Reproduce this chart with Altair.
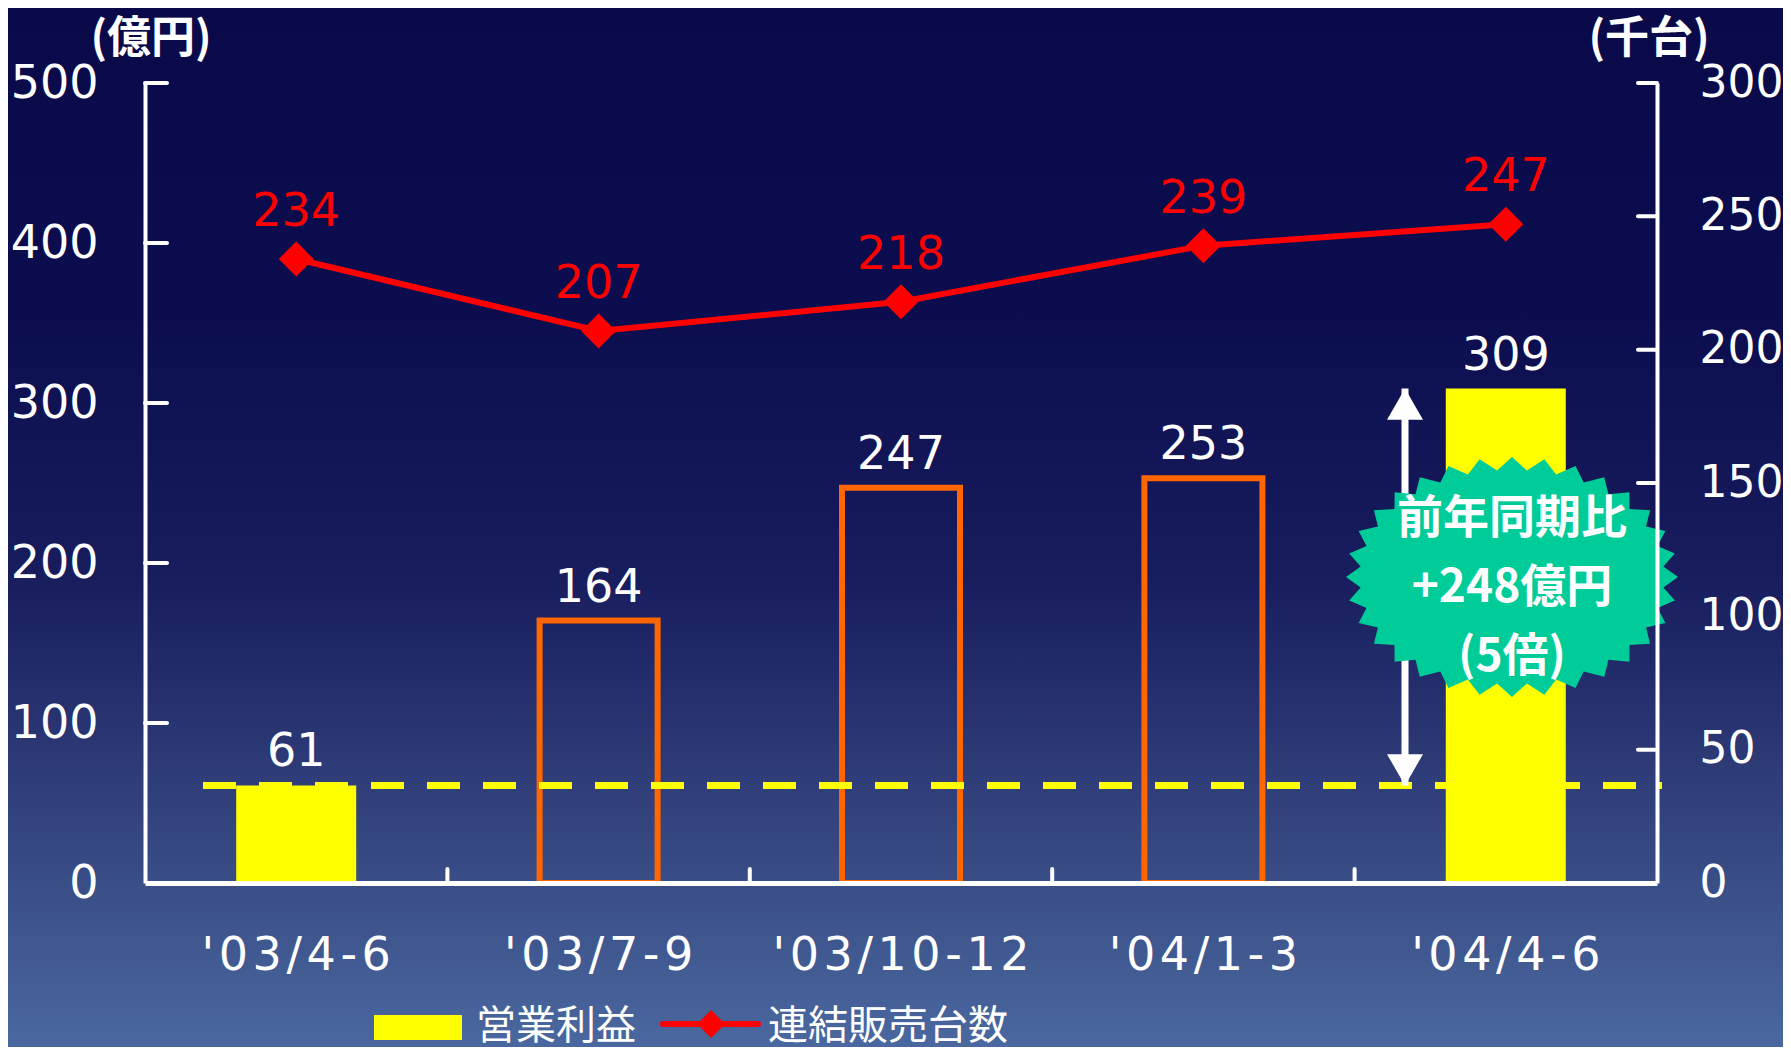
import math
import altair as alt
import pandas as pd

# ---------------- data ----------------
categories = ["'03/4-6", "'03/7-9", "'03/10-12", "'04/1-3", "'04/4-6"]
profit = [61, 164, 247, 253, 309]          # 営業利益 (億円), left axis
units = [234, 207, 218, 239, 247]          # 連結販売台数 (千台), right axis
bar_style = ["filled", "outline", "outline", "outline", "filled"]
left_values = [0, 100, 200, 300, 400, 500]
right_values = [0, 50, 100, 150, 200, 250, 300]
badge_lines = ["前年同期比", "+248億円", "(5倍)"]
legend_labels = ["営業利益", "連結販売台数"]
left_unit = "(億円)"
right_unit = "(千台)"

df = pd.DataFrame({"cat": categories, "profit": profit, "units": units, "style": bar_style})
one = pd.DataFrame({"k": [0]})

# ---------------- layout ----------------
W, H = 1512, 800
PAD = {"left": 137, "top": 75, "right": 126, "bottom": 164}

WHITE = "#ffffff"
YELLOW = "#ffff00"
ORANGE = "#ff6600"
RED = "#ff0000"
GREEN = "#00cc99"
NUMFONT = "DejaVu Sans"
JPFONT = "Noto Sans CJK JP"

xscale = alt.Scale(domain=categories, paddingInner=0, paddingOuter=0)
xaxis = alt.Axis(title=None, labelAngle=0, labelColor=WHITE, labelFont=NUMFONT,
                 labelFontSize=46, labelPadding=50, labelLimit=600, ticks=False, tickSize=0,
                 labelExpr="join(split(datum.label, ''), '\u200a')",
                 domainColor=WHITE, domainWidth=5, grid=False, zindex=1)
X = alt.X("cat:N", sort=categories, scale=xscale, axis=xaxis)

lscale = alt.Scale(domain=[0, 500], nice=False, zero=True)
rscale = alt.Scale(domain=[0, 300], nice=False, zero=True)

laxis = alt.Axis(orient="left", title=None, values=left_values, labelColor=WHITE,
                 labelFont=NUMFONT, labelFontSize=46, labelPadding=47, ticks=False,
                 tickSize=0, domainColor=WHITE, domainWidth=4, grid=False, zindex=1)
raxis = alt.Axis(orient="right", title=None, values=right_values, labelColor=WHITE,
                 labelFont=NUMFONT, labelFontSize=44, labelPadding=42, ticks=False,
                 tickSize=0, domainColor=WHITE, domainWidth=4, grid=False, zindex=1)

# ---------------- background gradient ----------------
grad = alt.LinearGradient(
    gradient="linear", x1=0, x2=0, y1=0, y2=1,
    stops=[
        alt.GradientStop(color="#0a0a4a", offset=0),
        alt.GradientStop(color="#0b0d4e", offset=0.3),
        alt.GradientStop(color="#181d5e", offset=0.55),
        alt.GradientStop(color="#33437d", offset=0.78),
        alt.GradientStop(color="#4a689f", offset=1),
    ],
)
bg = alt.Chart(one).mark_rect(color=grad).encode(
    x=alt.value(-PAD["left"]), x2=alt.value(W + PAD["right"]),
    y=alt.value(-PAD["top"]), y2=alt.value(H + PAD["bottom"]),
)

base = alt.Chart(df)

filled = base.transform_filter(alt.datum.style == "filled").mark_bar(
    width=120, color=YELLOW
).encode(x=X, y=alt.Y("profit:Q", scale=lscale, axis=laxis))

outline = base.transform_filter(alt.datum.style == "outline").mark_bar(
    width=118, fill="#000000", fillOpacity=0, stroke=ORANGE, strokeWidth=6
).encode(x=X, y=alt.Y("profit:Q", scale=lscale, axis=None))

bar_text = base.mark_text(font=NUMFONT, fontSize=46, color=WHITE, baseline="alphabetic",
                          dy=-19).encode(
    x=X, y=alt.Y("profit:Q", scale=lscale, axis=None), text="profit:Q")

# inward ticks
lt = alt.Chart(pd.DataFrame({"v": left_values[1:]})).mark_rule(
    color=WHITE, strokeWidth=4, strokeCap="round").encode(
    y=alt.Y("v:Q", scale=lscale, axis=None), x=alt.value(0), x2=alt.value(22))
rt = alt.Chart(pd.DataFrame({"v": right_values[1:]})).mark_rule(
    color=WHITE, strokeWidth=4, strokeCap="round").encode(
    y=alt.Y("v:Q", scale=rscale, axis=None), x=alt.value(W - 19), x2=alt.value(W))
xt = alt.Chart(pd.DataFrame({"cat": categories[1:]})).mark_rule(
    color=WHITE, strokeWidth=4, strokeCap="round").encode(
    x=alt.X("cat:N", sort=categories, scale=xscale, axis=xaxis, bandPosition=0),
    y=alt.value(H), y2=alt.value(H - 14))

# dashed reference at first-quarter profit
dash = alt.Chart(pd.DataFrame({"v": [profit[0]]})).mark_rule(
    color=YELLOW, strokeWidth=7, strokeDash=[33, 23]).encode(
    y=alt.Y("v:Q", scale=lscale, axis=None), x=alt.value(58), x2=alt.value(1517))

# line series
line = base.mark_line(color=RED, strokeWidth=6).encode(
    x=X, y=alt.Y("units:Q", scale=rscale, axis=raxis))
pts = base.mark_point(shape="diamond", filled=True, size=1225, color=RED, opacity=1,
                      strokeWidth=0).encode(
    x=X, y=alt.Y("units:Q", scale=rscale, axis=None))
line_text = base.mark_text(font=NUMFONT, fontSize=46, color=RED, baseline="middle",
                           dy=-47).encode(
    x=X, y=alt.Y("units:Q", scale=rscale, axis=None), text="units:Q")

# double arrow
arr_df = pd.DataFrame({"lo": [profit[0]], "hi": [profit[-1]]})
AX = 1260
shaft = alt.Chart(arr_df).mark_rule(color=WHITE, strokeWidth=7).encode(
    x=alt.value(AX), y=alt.Y("lo:Q", scale=lscale, axis=None), y2="hi:Q")
head_up = alt.Chart(arr_df).mark_point(shape="triangle-up", filled=True, size=1296,
                                       color=WHITE, opacity=1, strokeWidth=0,
                                       yOffset=15.6).encode(
    x=alt.value(AX), y=alt.Y("hi:Q", scale=lscale, axis=None))
head_dn = alt.Chart(arr_df).mark_point(shape="triangle-down", filled=True, size=1296,
                                       color=WHITE, opacity=1, strokeWidth=0,
                                       yOffset=-15.6).encode(
    x=alt.value(AX), y=alt.Y("lo:Q", scale=lscale, axis=None))

# starburst badge shape
N = 32
verts = []
for i in range(2 * N):
    t = math.pi / 2 + i * math.pi / N
    rx, ry = (1.0, 0.723) if i % 2 == 0 else (0.916, 0.645)
    verts.append((rx * math.cos(t), -ry * math.sin(t)))
burst = "M" + "L".join(f"{a:.4f},{b:.4f}" for a, b in verts) + "Z"
BX, BY = 1367, 494
badge = alt.Chart(one).mark_point(shape=burst, filled=True, size=332 * 332, color=GREEN,
                                  opacity=1, strokeWidth=0).encode(
    x=alt.value(BX), y=alt.value(BY))
badge_texts = [
    alt.Chart(one).mark_text(font=JPFONT, fontWeight="bold", fontSize=46, color=WHITE,
                             align="center", baseline="middle").encode(
        x=alt.value(BX), y=alt.value(yy), text=alt.value(t))
    for t, yy in zip(badge_lines, [436, 505, 574])
]

# unit titles
unit_l = alt.Chart(one).mark_text(font=JPFONT, fontWeight="bold", fontSize=44, color=WHITE,
                                  align="center", baseline="middle").encode(
    x=alt.value(6), y=alt.value(-43), text=alt.value(left_unit))
unit_r = alt.Chart(one).mark_text(font=JPFONT, fontWeight="bold", fontSize=44, color=WHITE,
                                  align="center", baseline="middle").encode(
    x=alt.value(1504), y=alt.value(-43), text=alt.value(right_unit))

# legend
LY = 944
leg_rect = alt.Chart(one).mark_rect(color=YELLOW).encode(
    x=alt.value(229), x2=alt.value(317), y=alt.value(LY - 12), y2=alt.value(LY + 13))
leg_t1 = alt.Chart(one).mark_text(font=JPFONT, fontSize=40, color=WHITE, align="left",
                                  baseline="middle").encode(
    x=alt.value(331), y=alt.value(LY), text=alt.value(legend_labels[0]))
leg_line = alt.Chart(one).mark_rule(color=RED, strokeWidth=6, strokeCap="round").encode(
    x=alt.value(518), x2=alt.value(613), y=alt.value(LY - 3))
leg_pt = alt.Chart(one).mark_point(shape="diamond", filled=True, size=784, color=RED,
                                   opacity=1, strokeWidth=0).encode(
    x=alt.value(566), y=alt.value(LY - 3))
leg_t2 = alt.Chart(one).mark_text(font=JPFONT, fontSize=40, color=WHITE, align="left",
                                  baseline="middle").encode(
    x=alt.value(623), y=alt.value(LY), text=alt.value(legend_labels[1]))

chart = alt.layer(
    bg, filled, outline, lt, rt, xt, dash, line, pts, line_text, bar_text,
    shaft, head_up, head_dn, badge, *badge_texts, unit_l, unit_r,
    leg_rect, leg_t1, leg_line, leg_pt, leg_t2,
).resolve_scale(y="independent").properties(
    width=W, height=H, padding=PAD, autosize=alt.AutoSizeParams(type="none"),
    background="#0a0a4a",
).configure_view(strokeWidth=0)

chart.save("out.html", embed_options={"renderer": "svg", "actions": False})
